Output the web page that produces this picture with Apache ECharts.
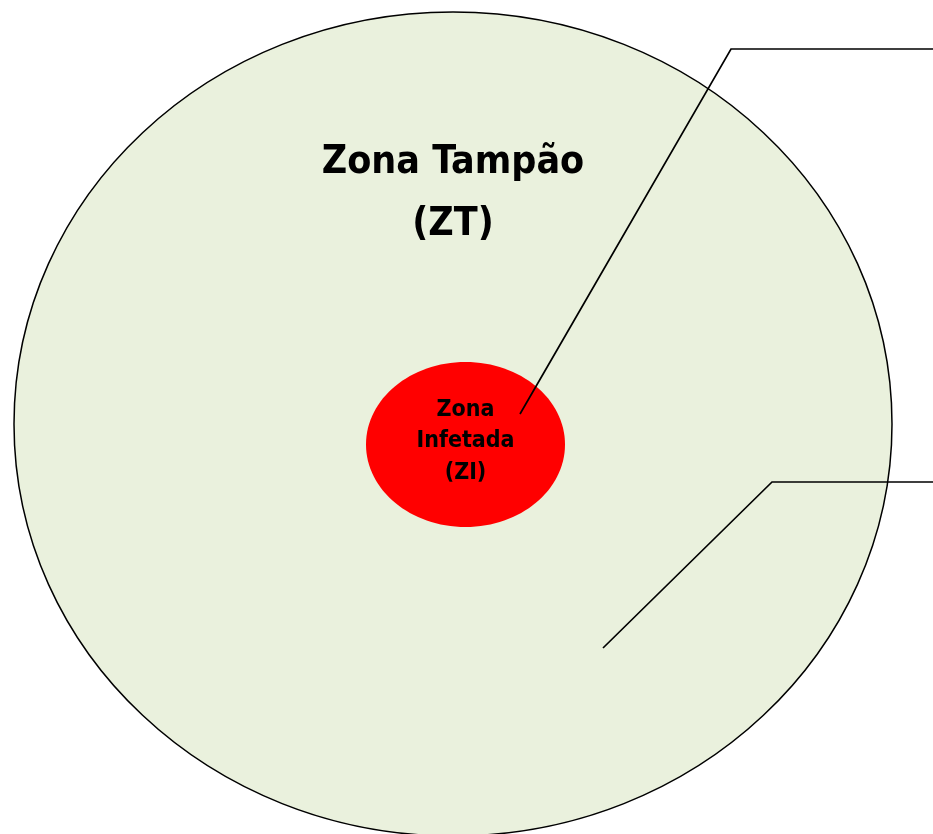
<!DOCTYPE html>
<html>
<head>
<meta charset="utf-8">
<script src="https://cdn.jsdelivr.net/npm/echarts@6/dist/echarts.min.js"></script>
<style>html,body{margin:0;padding:0;background:#fff}#c{width:933px;height:834px}</style>
</head>
<body>
<div id="c"></div>
<script>
// Zones (outer buffer zone, inner infected zone)
const zoneLabels = ['Zona Tampão\n(ZT)', 'Zona\nInfetada\n(ZI)'];
const zoneCenterX = [453, 465.5];
const zoneCenterY = [424, 444.5];
const zoneRadiusX = [439, 99.5];
const zoneRadiusY = [412, 82.5];
// Label anchor points (value coordinates)
const labelX = [453, 465.5];
const labelY = [194, 441.5];
// Leader lines (callout connectors), as points in value coordinates
const leaderLineX = [[520, 731, 933], [603, 772, 933]];
const leaderLineY = [[414, 49, 49], [648, 482, 482]];

const zoneFill = ['#EAF1DD', '#FF0000'];
const labelSize = [39, 23];
const labelLineH = [62, 31.5];

const chart = echarts.init(document.getElementById('c'), null, {renderer: 'canvas'});
const zoneData = zoneLabels.map((l, i) => [zoneCenterX[i], zoneCenterY[i], zoneRadiusX[i], zoneRadiusY[i], labelX[i], labelY[i]]);
const lineData = leaderLineX.map((xs, i) => [i]);

chart.setOption({
  animation: false,
  grid: {left: 0, right: 0, top: 0, bottom: 0},
  xAxis: {type: 'value', min: 0, max: 933, show: false},
  yAxis: {type: 'value', min: 0, max: 834, inverse: true, show: false},
  series: [
    {
      type: 'custom',
      clip: false,
      data: zoneData,
      renderItem: function (params, api) {
        const i = params.dataIndex;
        const c = api.coord([api.value(0), api.value(1)]);
        const sz = api.size([api.value(2), api.value(3)]);
        return {
          type: 'ellipse',
          shape: {cx: c[0], cy: c[1], rx: sz[0], ry: sz[1]},
          style: {fill: zoneFill[i], stroke: i === 0 ? '#000' : null, lineWidth: i === 0 ? 1.5 : 0}
        };
      }
    },
    {
      type: 'custom',
      clip: false,
      data: lineData,
      z: 3,
      renderItem: function (params, api) {
        const i = params.dataIndex;
        const pts = leaderLineX[i].map((x, k) => api.coord([x, leaderLineY[i][k]]));
        return {type: 'polyline', shape: {points: pts}, style: {stroke: '#000', lineWidth: 1.7, fill: null}};
      }
    },
    {
      type: 'custom',
      clip: false,
      data: zoneData,
      z: 4,
      renderItem: function (params, api) {
        const i = params.dataIndex;
        const lp = api.coord([api.value(4), api.value(5)]);
        return {
          type: 'text',
          x: lp[0], y: lp[1],
          style: {
            text: zoneLabels[i],
            fill: '#000',
            font: 'bold ' + labelSize[i] + 'px "DejaVu Sans Condensed", "DejaVu Sans", sans-serif',
            align: 'center', verticalAlign: 'middle',
            lineHeight: labelLineH[i]
          }
        };
      }
    }
  ]
});
</script>
</body>
</html>
